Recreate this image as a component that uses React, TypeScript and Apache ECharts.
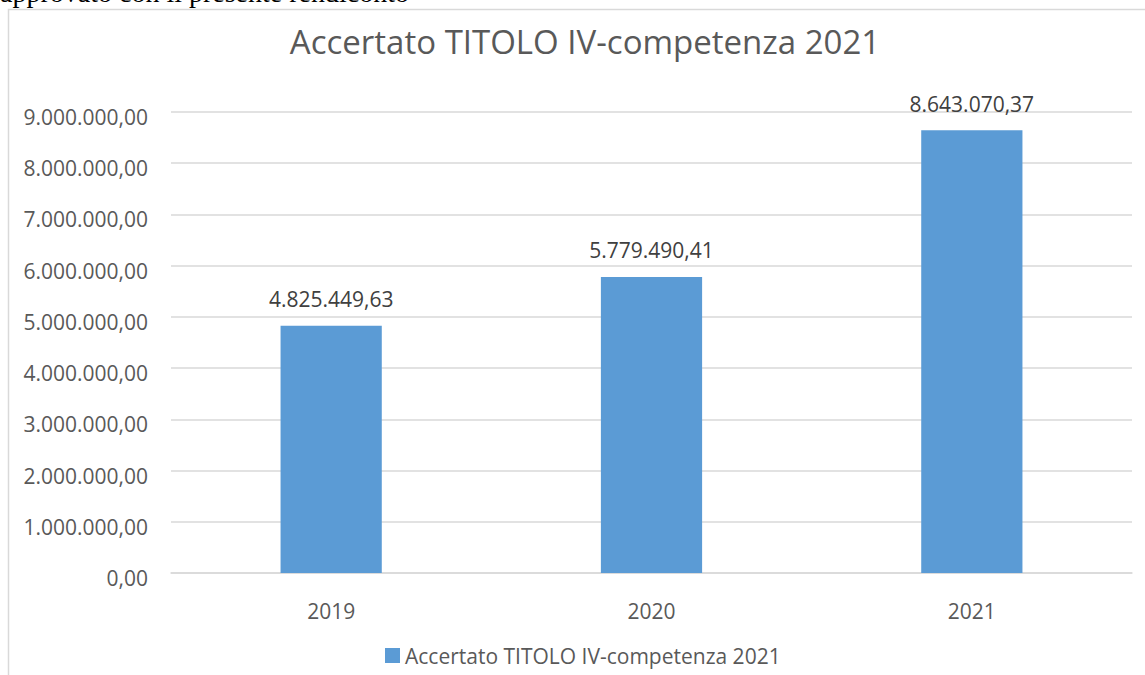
import React, { useEffect, useRef } from "react";
import * as echarts from "echarts";

const categories = ["2019", "2020", "2021"];
const values = [4825449.63, 5779490.41, 8643070.37];
const seriesName = "Accertato TITOLO IV-competenza 2021";
const titleText = "Accertato TITOLO IV-competenza 2021";
const headerText = "approvato con il presente rendiconto";

const fmt = (v: number) => {
  const [i, d] = v.toFixed(2).split(".");
  return i.replace(/\B(?=(\d{3})+(?!\d))/g, ".") + "," + d;
};

const FONT = "Open Sans";

export default function App() {
  const ref = useRef<HTMLDivElement>(null);
  useEffect(() => {
    document.body.style.overflow = "hidden";
    const chart = echarts.init(ref.current!, null, { renderer: "svg" });
    chart.setOption({
      animation: false,
      backgroundColor: "#ffffff",
      graphic: [
        {
          type: "text",
          z: 1,
          style: {
            x: 0,
            y: -8,
            text: headerText,
            font: "28px 'Liberation Serif'",
            fill: "#000000",
            verticalAlign: "middle",
          },
        },
        {
          type: "rect",
          z: 2,
          shape: { x: 8.5, y: 9.5, width: 1200, height: 700 },
          style: { fill: "#ffffff", stroke: "#d9d9d9", lineWidth: 1.5 },
        },
      ],
      title: {
        text: titleText,
        left: 580,
        textAlign: "center",
        top: 20,
        textStyle: {
          fontFamily: FONT,
          fontSize: 33,
          fontWeight: "normal",
          color: "#595959",
        },
        z: 10,
      },
      legend: {
        data: [seriesName],
        top: 645,
        left: 385,
        padding: 0,
        itemWidth: 15,
        itemHeight: 15,
        itemGap: 6,
        icon: "rect",
        textStyle: { fontFamily: FONT, fontSize: 21, color: "#595959" },
        z: 10,
      },
      grid: { left: 171, right: 13, top: 112, bottom: 102, containLabel: false, z: 10 },
      xAxis: {
        type: "category",
        data: categories,
        z: 10,
        axisLine: { lineStyle: { color: "#d9d9d9", width: 1.5 } },
        axisTick: { show: false },
        axisLabel: {
          fontFamily: FONT,
          fontSize: 21,
          color: "#595959",
          margin: 27,
        },
      },
      yAxis: {
        type: "value",
        min: 0,
        max: 9000000,
        interval: 1000000,
        z: 10,
        axisLine: { show: false },
        axisTick: { show: false },
        splitLine: { lineStyle: { color: "#d9d9d9", width: 1.5 } },
        axisLabel: {
          fontFamily: FONT,
          fontSize: 21,
          color: "#595959",
          margin: 23,
          verticalAlign: "top",
          lineHeight: 10,
          formatter: (v: number) => fmt(v),
        },
      },
      series: [
        {
          name: seriesName,
          type: "bar",
          data: values,
          barWidth: "31.6%",
          z: 10,
          itemStyle: { color: "#5B9BD5" },
          label: {
            show: true,
            position: "top",
            distance: 16,
            fontFamily: FONT,
            fontSize: 21,
            color: "#404040",
            formatter: (p: any) => fmt(p.value),
          },
        },
      ],
    });
    return () => chart.dispose();
  }, []);
  return (
    <div
      ref={ref}
      style={{ position: "absolute", left: 0, top: 0, width: 1145, height: 675 }}
    />
  );
}
